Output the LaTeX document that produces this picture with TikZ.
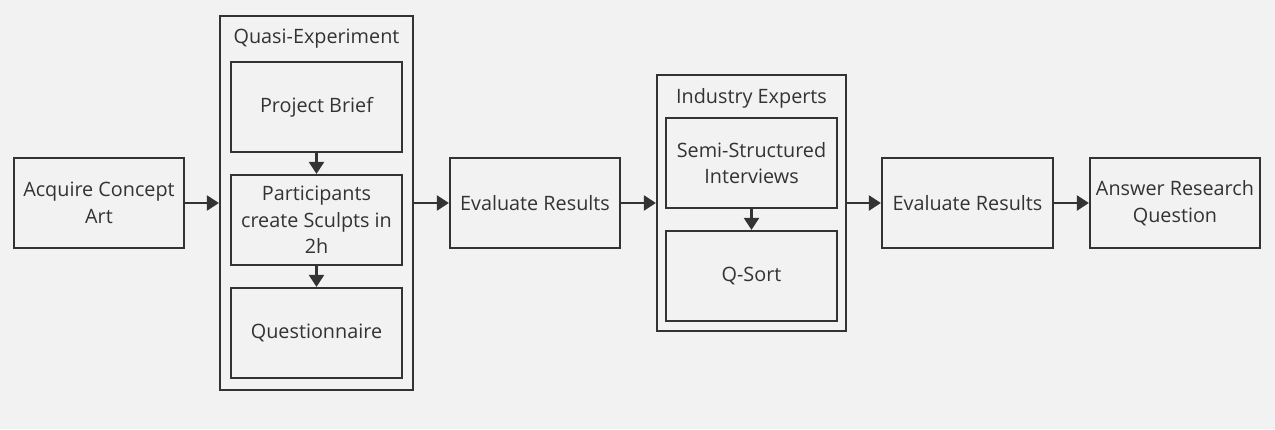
\documentclass[tikz,border=0pt]{standalone}
\usepackage{fontspec}
\setmainfont{Open Sans}
\usetikzlibrary{arrows.meta}
\definecolor{bg}{HTML}{F2F2F2}
\definecolor{ink}{HTML}{333333}
\tikzset{
  box/.style={draw=ink, line width=2.2pt, fill=bg, inner sep=0pt, align=center,
    text=ink, font=\fontsize{19.8}{26.5}\selectfont},
  frame/.style={draw=ink, line width=2.2pt, inner sep=0pt},
  title/.style={text=ink, font=\fontsize{19.8}{26.5}\selectfont, inner sep=0pt},
  conn/.style={draw=ink, line width=2.2pt, -{Triangle[length=12pt,width=15pt]}},
}
\begin{document}
\begin{tikzpicture}[x=1pt,y=-1pt]
\fill[bg] (0,0) rectangle (1275,429);
\useasboundingbox (0,0) rectangle (1275,429);
% outer frames
\node[frame, minimum width=193pt, minimum height=374pt] (quasi) at (316.5,203) {};
\node[title] (quasiT) at (316.5,39) {Quasi-Experiment};
\node[frame, minimum width=189pt, minimum height=256pt] (ind) at (751.5,203) {};
\node[title] (indT) at (751.5,98) {Industry Experts};
% boxes
\node[box, minimum width=170pt, minimum height=90pt] (acq) at (99,203) {Acquire Concept\\Art};
\node[box, minimum width=171pt, minimum height=90pt] (brief) at (316.5,107) {Project Brief};
\node[box, minimum width=171pt, minimum height=90pt] (part) at (316.5,220) {Participants\\create Sculpts in\\2h};
\node[box, minimum width=171pt, minimum height=90pt] (quest) at (316.5,333) {Questionnaire};
\node[box, minimum width=170pt, minimum height=90pt] (eval1) at (535,203) {Evaluate Results};
\node[box, minimum width=171pt, minimum height=90pt] (semi) at (751.5,163) {Semi-Structured\\Interviews};
\node[box, minimum width=171pt, minimum height=90pt] (qsort) at (751.5,276) {Q-Sort};
\node[box, minimum width=171pt, minimum height=90pt] (eval2) at (967.5,203) {Evaluate Results};
\node[box, minimum width=170pt, minimum height=90pt] (ans) at (1175,203) {Answer Research\\Question};
% connectors
\draw[conn] (acq.east) -- (quasi.west |- acq.east);
\draw[conn] (quasi.east |- eval1.west) -- (eval1.west);
\draw[conn] (eval1.east) -- (ind.west |- eval1.east);
\draw[conn] (ind.east |- eval2.west) -- (eval2.west);
\draw[conn] (eval2.east) -- (ans.west);
\draw[conn] (brief.south) -- (part.north);
\draw[conn] (part.south) -- (quest.north);
\draw[conn] (semi.south) -- (qsort.north);
\end{tikzpicture}
\end{document}
